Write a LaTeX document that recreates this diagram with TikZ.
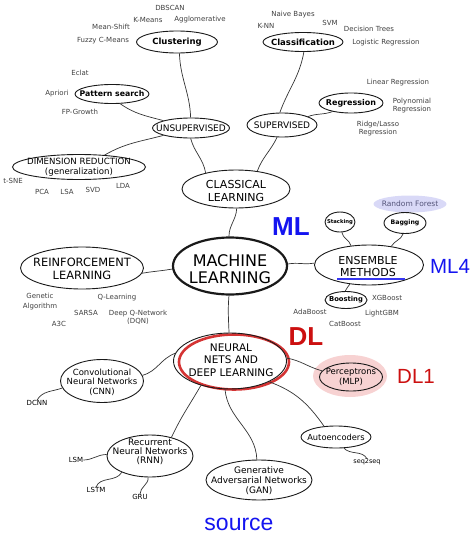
\documentclass[tikz,border=0pt]{standalone}
\usepackage{fontspec}
\setmainfont{DejaVu Sans}
\newfontfamily\annot{Liberation Sans}
\usetikzlibrary{shapes.geometric}
\definecolor{annblue}{HTML}{1414F0}
\definecolor{annred}{HTML}{CC1010}
\definecolor{lav}{HTML}{D9D9F7}
\definecolor{pinkhalo}{HTML}{F7D2D2}
\definecolor{lbl}{HTML}{404040}
\definecolor{rfcol}{HTML}{55557A}
\newcommand\myfs[2]{\fontsize{#1}{#2}\selectfont}
\tikzset{
  ell/.style={ellipse, draw=black!90, line width=0.9pt, inner sep=0pt},
  tx/.style={align=center, inner sep=0pt, text=black},
  lb/.style={font=\myfs{7}{8}, text=lbl, align=center, inner sep=0pt},
  con/.style={draw=black!80, line width=0.7pt},
}
\begin{document}
\begin{tikzpicture}[x=1pt,y=1pt]
\path[use as bounding box] (0,0) rectangle (473,-535);

% ---------- highlights ----------
\node[ellipse, fill=lav, inner sep=0pt, minimum width=73pt, minimum height=17pt] (rf) at (410,-204) {};
\node[tx, text=rfcol, font=\myfs{7.5}{9}] (rft) at (rf) {Random Forest};
\node[ellipse, fill=pinkhalo, inner sep=0pt, minimum width=74pt, minimum height=42pt] (halo) at (350,-376) {};

% ---------- ellipses ----------
\node[ell, minimum width=81pt, minimum height=22pt] (clus) at (177,-42) {};
\node[ell, minimum width=74pt, minimum height=19pt] (pat) at (112,-94) {};
\node[ell, minimum width=77pt, minimum height=20pt] (unsup) at (191,-128) {};
\node[ell, minimum width=133pt, minimum height=25pt] (dim) at (79,-167) {};
\node[ell, minimum width=80pt, minimum height=19pt] (cls) at (303,-42) {};
\node[ell, minimum width=70pt, minimum height=24pt] (sup) at (282,-125) {};
\node[ell, minimum width=64pt, minimum height=20pt] (reg) at (351,-103) {};
\node[ell, minimum width=108pt, minimum height=38pt] (cl) at (236,-189) {};
\node[ell, line width=2.2pt, minimum width=114pt, minimum height=57pt] (ml) at (230,-266) {};
\node[ell, minimum width=30pt, minimum height=20pt] (stack) at (340,-222) {};
\node[ell, minimum width=42pt, minimum height=21pt] (bag) at (405,-223) {};
\node[ell, minimum width=109pt, minimum height=40pt] (ens) at (369,-265) {};
\node[ell, minimum width=42pt, minimum height=17pt] (boost) at (346,-300) {};
\node[ell, minimum width=123pt, minimum height=42pt] (rl) at (82,-268) {};
\node[ellipse, draw=annred!85, line width=2.6pt, inner sep=0pt, minimum width=110pt, minimum height=55pt] (nnred) at (234,-362) {};
\node[ell, minimum width=113pt, minimum height=56pt] (nn) at (230,-361) {};
\node[ell, minimum width=63pt, minimum height=28pt] (perc) at (351,-377) {};
\node[ell, minimum width=70pt, minimum height=22pt] (auto) at (336,-437) {};
\node[ell, minimum width=106pt, minimum height=40pt] (gan) at (259,-480) {};
\node[ell, minimum width=83pt, minimum height=43pt] (cnn) at (102,-381) {};
\node[ell, minimum width=86pt, minimum height=42pt] (rnn) at (150,-456) {};

% ---------- node texts ----------
\node[tx, font=\bfseries\myfs{8.5}{10}] (clust) at (clus) {Clustering};
\node[tx, font=\bfseries\myfs{7.8}{9}] (patt) at (pat) {Pattern search};
\node[tx, font=\myfs{9}{10}] (unsupt) at (unsup) {UNSUPERVISED};
\node[tx, font=\myfs{8.6}{10}] (dimt) at (79,-167) {DIMENSION REDUCTION\\(generalization)};
\node[tx, font=\bfseries\myfs{8.5}{10}] (clst) at (cls) {Classification};
\node[tx, font=\myfs{9}{10}] (supt) at (sup) {SUPERVISED};
\node[tx, font=\bfseries\myfs{8}{9}] (regt) at (reg) {Regression};
\node[tx, font=\myfs{11}{13}] (clt) at (236,-191) {CLASSICAL\\LEARNING};
\node[tx, font=\myfs{16}{17}] (mlt) at (230,-269) {MACHINE\\LEARNING};
\node[tx, font=\bfseries\myfs{5.3}{6}] (stackt) at (stack) {Stacking};
\node[tx, font=\bfseries\myfs{6.2}{7}] (bagt) at (bag) {Bagging};
\node[tx, font=\myfs{11}{12}] (enst) at (368,-266) {ENSEMBLE\\METHODS};
\node[tx, font=\bfseries\myfs{6.8}{8}] (boostt) at (boost) {Boosting};
\node[tx, font=\myfs{11.4}{13}] (rlt) at (82,-269) {REINFORCEMENT\\LEARNING};
\node[tx, font=\myfs{10.5}{12.5}] (nnt) at (231,-360) {NEURAL\\NETS AND\\DEEP LEARNING};
\node[tx, font=\myfs{8.5}{10}] (perct) at (perc) {Perceptrons\\(MLP)};
\node[tx, font=\myfs{8.3}{10}] (autot) at (auto) {Autoencoders};
\node[tx, font=\myfs{9}{10}] (gant) at (259,-481) {Generative\\Adversarial Networks\\(GAN)};
\node[tx, font=\myfs{8.5}{9.5}] (cnnt) at (102,-382) {Convolutional\\Neural Networks\\(CNN)};
\node[tx, font=\myfs{9}{9}] (rnnt) at (150,-452) {Recurrent\\Neural Networks\\(RNN)};

% ---------- small labels ----------
\node[lb] (dbscan) at (170,-8) {DBSCAN};
\node[lb] (kmeans) at (148,-20) {K-Means};
\node[lb] (aggl) at (200,-20) {Agglomerative};
\node[lb] (meanshift) at (111,-27) {Mean-Shift};
\node[lb] (fuzzy) at (103,-41) {Fuzzy C-Means};
\node[lb] (eclat) at (80,-73) {Eclat};
\node[lb] (apriori) at (57,-94) {Apriori};
\node[lb] (fpg) at (80,-112) {FP-Growth};
\node[lb] (nbayes) at (293,-15) {Naive Bayes};
\node[lb] (knn) at (266,-26) {K-NN};
\node[lb] (svm) at (330,-23) {SVM};
\node[lb] (dtrees) at (369,-29) {Decision Trees};
\node[lb] (logreg) at (386,-43) {Logistic Regression};
\node[lb] (linreg) at (398,-83) {Linear Regression};
\node[lb, font=\myfs{7}{8}] (polyreg) at (412,-106) {Polynomial\\Regression};
\node[lb, font=\myfs{7}{8}] (ridge) at (378,-129) {Ridge/Lasso\\Regression};
\node[lb] (tsne) at (13,-181) {t-SNE};
\node[lb] (pca) at (42,-192) {PCA};
\node[lb] (lsa) at (67,-192) {LSA};
\node[lb] (svd) at (93,-190) {SVD};
\node[lb] (lda) at (123,-186) {LDA};
\node[lb, font=\myfs{7}{10}] (genetic) at (40,-302) {Genetic\\Algorithm};
\node[lb] (qlearn) at (117,-298) {Q-Learning};
\node[lb] (sarsa) at (86,-313) {SARSA};
\node[lb, font=\myfs{7}{8}] (dqn) at (138,-317) {Deep Q-Network\\(DQN)};
\node[lb] (a3c) at (59,-324) {A3C};
\node[lb] (xgb) at (387,-298) {XGBoost};
\node[lb] (ada) at (310,-312) {AdaBoost};
\node[lb] (lgbm) at (382,-314) {LightGBM};
\node[lb] (cat) at (345,-324) {CatBoost};
\node[lb, text=black] (dcnn) at (37,-403) {DCNN};
\node[lb, text=black] (lsm) at (76,-460) {LSM};
\node[lb, text=black] (lstm) at (96,-490) {LSTM};
\node[lb, text=black] (gru) at (140,-497) {GRU};
\node[lb, text=black, font=\myfs{6.5}{7}] (seq) at (367,-462) {seq2seq};

% ---------- annotations ----------
\node[tx, text=annblue, font=\annot\bfseries\myfs{26}{28}] (mlan) at (291,-227) {ML};
\node[tx, text=annblue, font=\annot\myfs{20.5}{22}] (ml4) at (450,-266) {ML4};
\node[tx, text=annred, font=\annot\bfseries\myfs{26}{28}] (dlan) at (306,-337) {DL};
\node[tx, text=annred, font=\annot\myfs{20.5}{22}] (dl1) at (416,-376) {DL1};
\node[tx, text=annblue, font=\annot\myfs{23}{25}] (src) at (239,-524) {source};
\coordinate (ulA) at (337,-279);
\coordinate (ulB) at (405,-279);
\draw[annblue!85, line width=1.8pt] (ulA) -- (ulB);

% ---------- connectors ----------
\draw[con] (clus.-78) to[out=-88,in=92] (unsup.92);
\draw[con] (pat.-50) to[out=-35,in=165] (unsup.165);
\draw[con] (unsup.195) to[out=195,in=30] (dim.25);
\draw[con] (unsup.-92) to[out=-75,in=100] (cl.152);
\draw[con] (cls.-85) to[out=-100,in=70] (sup.100);
\draw[con] (reg.205) to[out=200,in=20] (sup.18);
\draw[con] (sup.-112) to[out=-115,in=70] (cl.40);
\draw[con] (cl.-88) to[out=-92,in=90] (ml.92);
\draw[con] (ml.2) to[out=10,in=190] (ens.178);
\draw[con] (stack.-80) to[out=-80,in=105] (ens.133);
\draw[con] (bag.-100) to[out=-110,in=60] (ens.40);
\draw[con] (ens.-135) to[out=-110,in=80] (boost.95);
\draw[con] (ml.183) to[out=190,in=10] (rl.-5);
\draw[con] (ml.-92) to[out=-95,in=92] (nn.92);
\draw[con] (nn.3) to[out=-10,in=165] (perc.168);
\draw[con] (nn.-28) to[out=-20,in=125] (auto.138);
\draw[con] (auto.-55) to[out=-45,in=120] (seq.north);
\draw[con] (nn.-100) to[out=-85,in=92] (gan.96);
\draw[con] (nn.172) to[out=200,in=15] (cnn.8);
\draw[con] (nn.-140) to[out=-120,in=65] (rnn.41);
\draw[con] (cnn.190) to[out=200,in=60] (dcnn.north);
\draw[con] (rnn.178) to[out=180,in=0] (lsm.east);
\draw[con] (rnn.-150) to[out=-120,in=70] (lstm.north);
\draw[con] (rnn.-95) to[out=-85,in=90] (gru.north);
\end{tikzpicture}
\end{document}
